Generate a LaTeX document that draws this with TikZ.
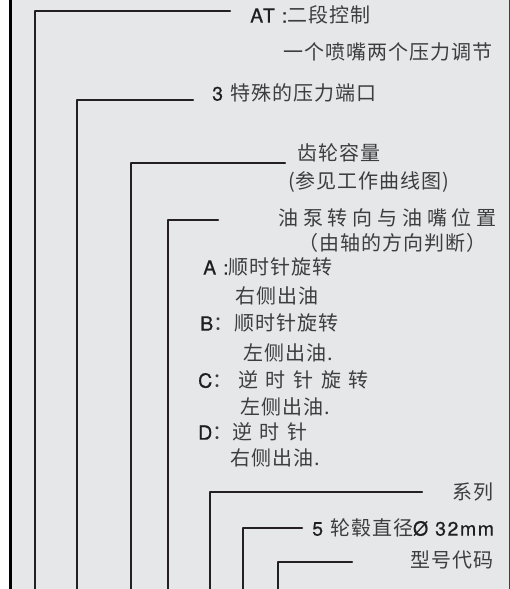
\documentclass[tikz,border=0pt]{standalone}
\usepackage{fontspec}
\usepackage{tikz}
\setmainfont{TeX Gyre Heros}[LetterSpace=8,FakeBold=0.6]
\newfontfamily\cjk[LetterSpace=5]{Noto Sans CJK SC}
\newfontfamily\cjkwide[LetterSpace=24]{Noto Sans CJK SC}
\newfontfamily\cjkwider[LetterSpace=38]{Noto Sans CJK SC}
\newcommand{\zh}[1]{{\cjk\fontsize{20}{24}\selectfont\color{zhtext}#1}}
\newcommand{\zhw}[1]{{\cjkwide\fontsize{20}{24}\selectfont\color{zhtext}#1}}
\newcommand{\zhww}[1]{{\cjkwider\fontsize{20}{24}\selectfont\color{zhtext}#1}}
\definecolor{bgfill}{rgb}{0.902,0.906,0.914}
\definecolor{lline}{rgb}{0.14,0.12,0.13}
\definecolor{ttext}{rgb}{0.12,0.12,0.12}
\definecolor{zhtext}{rgb}{0.24,0.24,0.24}
\definecolor{edgegrey}{rgb}{0.25,0.25,0.25}
\tikzstyle{every node}=[font=\fontsize{19.5}{22}\selectfont,inner sep=0pt,text=ttext]
\tikzstyle{lead}=[line width=2.2pt,color=lline]

\begin{document}
\begin{tikzpicture}[line cap=round,line join=round,x=1pt,y=-1pt]
\clip (0,0) rectangle (510,589);
\fill[bgfill] (10,0) rectangle (510,589);
\draw [line width=3pt,color=black] (10,0) -- (10,589);
\draw [line width=1.5pt,color=edgegrey] (509.25,0) -- (509.25,589);
% feet and tips of the leaders
\coordinate (atfoot) at (35,595);
\coordinate (attip) at (230,11);
\coordinate (portfoot) at (77,595);
\coordinate (porttip) at (193,100);
\coordinate (gearfoot) at (131,595);
\coordinate (geartip) at (285,163);
\coordinate (pumpfoot) at (168,595);
\coordinate (pumptip) at (218,220);
\coordinate (seriesfoot) at (210,595);
\coordinate (seriestip) at (422,492);
\coordinate (hubfoot) at (243,595);
\coordinate (hubtip) at (302,528);
\coordinate (modelfoot) at (278,595);
\coordinate (modeltip) at (352,562);
\draw [lead] (atfoot) |- (attip);
\draw [lead] (portfoot) |- (porttip);
\draw [lead] (gearfoot) |- (geartip);
\draw [lead] (pumpfoot) |- (pumptip);
\draw [lead] (seriesfoot) |- (seriestip);
\draw [lead] (hubfoot) |- (hubtip);
\draw [lead] (modelfoot) |- (modeltip);
% texts
\node[anchor=west] (at) at (250,15) {AT :\zh{二段控制}};
\node[anchor=east] (atsub) at (493,52) {\zh{一个喷嘴两个压力调节}};
\node[anchor=west] (port) at (212,93) {3 \zh{特殊的压力端口}};
\node[anchor=west] (gear) at (297,153) {\zh{齿轮容量}};
\node[anchor=west] (gearsub) at (288,182) {\zh{(参见工作曲线图)}};
\node[anchor=east] (pump) at (497,218) {\zhw{油泵转向与油嘴位置}};
\node[anchor=east] (pumpsub) at (487,243) {\zh{（由轴的方向判断）}};
\node[anchor=west] (rota) at (203,267) {A :\zh{顺时针旋转}};
\node[anchor=west] (outa) at (235,296) {\zh{右侧出油}};
\node[anchor=west] (rotb) at (200,323) {B\zh{：顺时针旋转}};
\node[anchor=west] (outb) at (243,353) {\zh{左侧出油.}};
\node[anchor=west] (rotc) at (198,380) {C\zh{：}\hspace{6pt}\zhww{逆时针旋转}};
\node[anchor=west] (outc) at (240,407) {\zh{左侧出油.}};
\node[anchor=west] (rotd) at (198,432) {D\zh{：}\zhww{逆时针}};
\node[anchor=west] (outd) at (230,458) {\zh{右侧出油.}};
\node[anchor=east] (series) at (494,492) {\zh{系列}};
\node[anchor=west] (hub) at (312,528) {5 \zh{轮毂直径}Ø 32mm};
\node[anchor=east] (model) at (494,560) {\zh{型号代码}};
\end{tikzpicture}
\end{document}
